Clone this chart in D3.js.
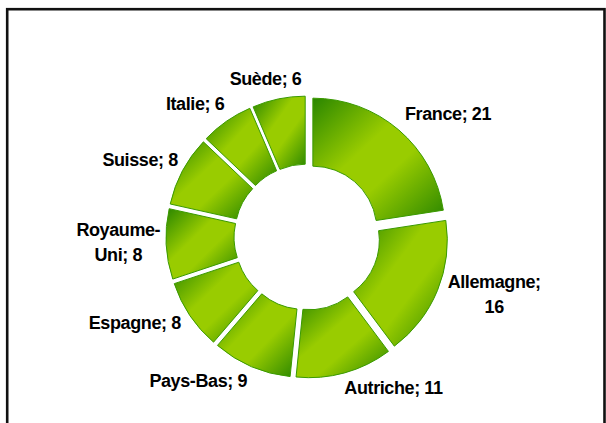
<!DOCTYPE html>
<html>
<head>
<meta charset="utf-8">
<script src="https://cdn.jsdelivr.net/npm/d3@7"></script>
<style>
  body { margin: 0; background: #fff; }
  text { font-family: "Liberation Sans", Arial, sans-serif; font-weight: bold; fill: #000; }
</style>
</head>
<body>
<div id="main"></div>
<script>
const ctx = {
    WIDTH: 606,
    HEIGHT: 423,
    CX: 307,
    CY: 237,
    R_OUT: 132,
    R_IN: 64,
    EXPLODE: 9,
    LABEL_R: 152,
    FONT: 18,
    DARK: "#2a8600",
    LIGHT: "#99cc00",
    EDGE: "#3a9a00"
};

const countries = ["France", "Allemagne", "Autriche", "Pays-Bas", "Espagne", "Royaume-Uni", "Suisse", "Italie", "Suède"];
const values = [21, 16, 11, 9, 8, 8, 8, 6, 6];
// labels that Excel wrapped onto two lines
const wrapped = ["Royaume-Uni", "Allemagne"];

const data = countries.map((c, i) => ({name: c, value: values[i]}));

function labelLines(d) {
    let full = `${d.name}; ${d.value}`;
    if (!wrapped.includes(d.name)) return [full];
    let h = d.name.indexOf("-");
    if (h >= 0) return [d.name.slice(0, h + 1), d.name.slice(h + 1) + "; " + d.value];
    return [d.name + ";", String(d.value)];
}

function createViz() {
    let svg = d3.select("#main").append("svg")
        .attr("width", ctx.WIDTH)
        .attr("height", ctx.HEIGHT);

    // gradient: dark corners, wide light diagonal band
    let grad = svg.append("defs").append("linearGradient")
        .attr("id", "sliceGrad")
        .attr("x1", 0).attr("y1", 0).attr("x2", 1).attr("y2", 1);
    grad.append("stop").attr("offset", 0).attr("stop-color", ctx.DARK);
    grad.append("stop").attr("offset", 0.4).attr("stop-color", ctx.LIGHT);
    grad.append("stop").attr("offset", 0.6).attr("stop-color", ctx.LIGHT);
    grad.append("stop").attr("offset", 1).attr("stop-color", ctx.DARK);

    // outer frame
    svg.append("rect")
        .attr("x", 7.2).attr("y", 9.2)
        .attr("width", 597.3).attr("height", 430)
        .attr("fill", "none")
        .attr("stroke", "#111")
        .attr("stroke-width", 2.6);

    let pie = d3.pie().sort(null).value(d => d.value).startAngle(0).endAngle(2 * Math.PI);
    let arc = d3.arc().innerRadius(ctx.R_IN).outerRadius(ctx.R_OUT);
    let arcs = pie(data);

    let g = svg.append("g").attr("transform", `translate(${ctx.CX}, ${ctx.CY})`);

    g.selectAll("path")
        .data(arcs)
        .enter()
        .append("path")
        .attr("d", arc)
        .attr("transform", d => {
            let a = (d.startAngle + d.endAngle) / 2;
            return `translate(${ctx.EXPLODE * Math.sin(a)}, ${-ctx.EXPLODE * Math.cos(a)})`;
        })
        .attr("fill", "url(#sliceGrad)")
        .attr("stroke", ctx.EDGE)
        .attr("stroke-width", 1);

    // labels outside the ring, pushed away from the anchor point
    let capH = ctx.FONT * 0.72;
    let lineH = 25;
    arcs.forEach(d => {
        let a = (d.startAngle + d.endAngle) / 2;
        let s = Math.sin(a), c = Math.cos(a);
        let px = ctx.LABEL_R * s, py = -ctx.LABEL_R * c;
        let lines = labelLines(d.data);
        let t = g.append("text")
            .attr("text-anchor", "middle")
            .style("font-size", ctx.FONT + "px")
            .style("letter-spacing", "-0.4px");
        lines.forEach(l => t.append("tspan").text(l));
        let w = d3.max(t.selectAll("tspan").nodes(), n => n.getComputedTextLength());
        let k = c > 0 ? 1.5 : 3.5;
        let fx = Math.max(-1, Math.min(1, s * k));
        let x = px + fx * w / 2 + (Math.abs(s) > 0.85 && s < 0 ? 5 : 0);
        let y = py - c * 7 - 3;
        let first = y + capH / 2 - (lines.length - 1) * lineH / 2;
        t.selectAll("tspan")
            .attr("x", x)
            .attr("y", (l, i) => first + i * lineH);
    });
}

createViz();
</script>
</body>
</html>
